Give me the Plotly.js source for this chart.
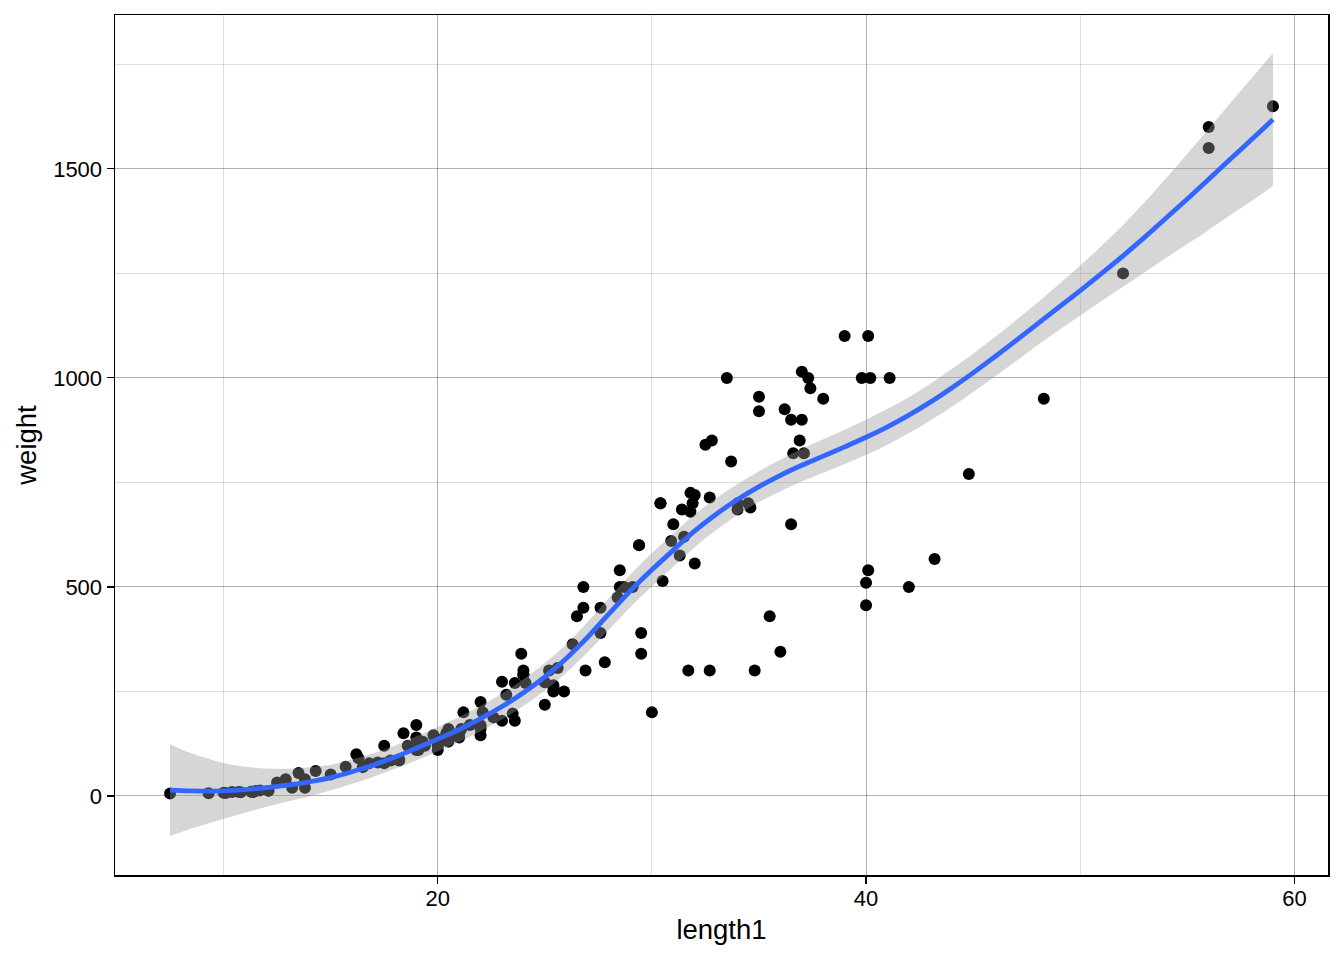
<!DOCTYPE html>
<html>
<head>
<meta charset="utf-8">
<script src="https://cdn.plot.ly/plotly-3.0.1.min.js"></script>
<style>html,body{margin:0;padding:0;background:#fff;}#chart{width:1344px;height:960px;}</style>
</head>
<body>
<div id="chart"></div>
<script>
// Fish data: length1 vs weight
const length1 = [
  23.2,24,23.9,26.3,26.5,26.8,26.8,27.6,27.6,28.5,28.4,28.7,29.1,29.5,29.4,29.4,30.4,30.4,30.9,31,31.3,31.4,31.5,31.8,31.9,31.8,32,32.7,32.8,33.5,35,35,36.2,37.4,38,
  12.9,16.5,17.5,18.2,18.6,19.1,19.4,20.4,20.5,20.5,21,21.1,22,22,22.1,23.6,24,25,29.5,
  23.6,24.1,25.6,28.5,33.7,37.3,
  13.5,14.3,16.3,17.5,18.4,19,19,19.8,21.2,23,24,
  7.5,12.5,13.8,15,15.7,16.2,16.8,17.2,17.8,18.2,19,19,19,19.3,20,20,20,20,20,20.5,20.5,20.7,21,21.5,22,22,22.6,23,23.5,25,25.2,25.4,25.4,25.4,25.9,26.9,27.8,30.5,32,32.5,34,34,34.5,34.6,36.5,36.5,36.6,36.9,37,37,37.1,39,39.8,40.1,40.2,41.1,
  30,31.7,32.7,34.8,35.5,36,40,40,40.1,42,43.2,44.8,48.3,52,56,56,59,
  9.3,10,10.1,10.4,10.7,10.8,11.3,11.3,11.4,11.5,11.7,12.1,13.2,13.8
];
const weight = [
  242,290,340,363,430,450,500,390,450,500,475,500,500,340,600,600,700,700,610,650,575,685,620,680,700,725,720,714,850,1000,920,955,925,975,950,
  40,69,78,87,120,110,120,150,145,160,140,160,169,161,200,180,290,272,390,
  270,270,306,540,800,1000,
  55,60,90,120,150,140,170,145,200,273,300,
  5.9,32,40,51.5,70,100,78,80,85,85,110,115,125,130,120,120,130,135,110,130,150,145,150,170,225,145,188,180,197,218,300,260,265,250,250,300,320,514,556,840,685,700,700,690,900,650,820,850,900,1015,820,1100,1000,1100,1000,1000,
  200,300,300,300,430,345,456,510,540,500,567,770,950,1250,1600,1550,1650,
  6.7,7.5,7,9.7,9.8,8.7,10,9.9,9.8,12.2,13.4,12.2,19.7,19.9
];

// loess smooth (fit and 95% band)
const smoothX = [7.5,8.5,10,11,12,13,14,15,16,17,18,19,20,21,22,23,24,25,26,27,28,29,30,31,32,33,34,35,36,37,38,39,40,41,42,43,44,45,46,47,48,49,50,51,52,53,54,55,56,57,58,59];
const smoothFit = [14,12,12,15,20,26,34,44,58,74,93,114,136,159,185,214,247,285,329,380,436,491,541,588,634,674,709,740,767,791,813,835,858,883,911,942,976,1012,1050,1089,1129,1169,1209,1250,1292,1336,1382,1428,1475,1523,1570,1618];
const smoothLow = [-96,-78,-55,-40,-26,-13,-1,13,29,46,65,85,107,129,155,183,215,252,295,344,398,452,501,548,595,636,672,703,729,752,773,794,816,840,868,898,931,966,1003,1040,1078,1114,1149,1184,1218,1252,1287,1320,1354,1389,1423,1459];
const smoothHigh = [124,102,79,70,66,65,69,75,87,102,121,143,165,189,215,245,279,318,363,416,474,530,581,628,673,712,746,777,805,830,853,876,900,926,954,986,1021,1058,1097,1138,1180,1224,1269,1316,1366,1420,1477,1536,1596,1657,1717,1777];

const xTicks = [20,40,60];
const yTicks = [0,500,1000,1500];
const xMinor = [10,30,50];
const yMinor = [250,750,1250,1750];

const font = "Liberation Sans, Arial, Helvetica, sans-serif";

const traces = [
  {x: length1, y: weight, type: 'scatter', mode: 'markers',
   marker: {color: '#000000', size: 12, line: {width: 0}}, hoverinfo: 'skip', showlegend: false},
  {x: smoothX, y: smoothLow, type: 'scatter', mode: 'lines',
   line: {width: 0, shape: 'spline', color: 'rgba(0,0,0,0)'}, hoverinfo: 'skip', showlegend: false},
  {x: smoothX, y: smoothHigh, type: 'scatter', mode: 'lines', fill: 'tonexty',
   fillcolor: 'rgba(153,153,153,0.4)',
   line: {width: 0, shape: 'spline', color: 'rgba(0,0,0,0)'}, hoverinfo: 'skip', showlegend: false},
  {x: smoothX, y: smoothFit, type: 'scatter', mode: 'lines',
   line: {width: 4.8, shape: 'spline', color: '#3366FF'}, hoverinfo: 'skip', showlegend: false}
];

const layout = {
  width: 1344, height: 960,
  margin: {l: 115, r: 16, t: 15, b: 85},
  paper_bgcolor: '#ffffff', plot_bgcolor: '#ffffff',
  font: {family: font, color: '#000000'},
  showlegend: false,
  xaxis: {
    range: [4.93, 61.57], tickvals: xTicks, ticktext: xTicks.map(String),
    ticks: 'outside', ticklen: 7, tickwidth: 1.2, tickcolor: '#000',
    tickfont: {size: 22, color: '#000'}, ticklabelstandoff: -4,
    showgrid: true, gridcolor: 'rgba(0,0,0,0.3)', gridwidth: 1,
    minor: {tickvals: xMinor, showgrid: true, gridcolor: 'rgba(0,0,0,0.13)', gridwidth: 1, ticks: ''},
    showline: true, mirror: true, linecolor: '#000', linewidth: 1.5,
    zeroline: false,
    title: {text: 'length1', font: {size: 27.5, color: '#000'}, standoff: 10}
  },
  yaxis: {
    range: [-189, 1868], tickvals: yTicks, ticktext: yTicks.map(String),
    ticks: 'outside', ticklen: 7, tickwidth: 1.2, tickcolor: '#000',
    tickfont: {size: 22, color: '#000'},
    showgrid: true, gridcolor: 'rgba(0,0,0,0.3)', gridwidth: 1,
    minor: {tickvals: yMinor, showgrid: true, gridcolor: 'rgba(0,0,0,0.13)', gridwidth: 1, ticks: ''},
    showline: true, mirror: true, linecolor: '#000', linewidth: 1.5,
    zeroline: false,
    title: {text: 'weight', font: {size: 27.5, color: '#000'}, standoff: 8}
  }
};

Plotly.newPlot('chart', traces, layout, {staticPlot: true, displayModeBar: false});
</script>
</body>
</html>
